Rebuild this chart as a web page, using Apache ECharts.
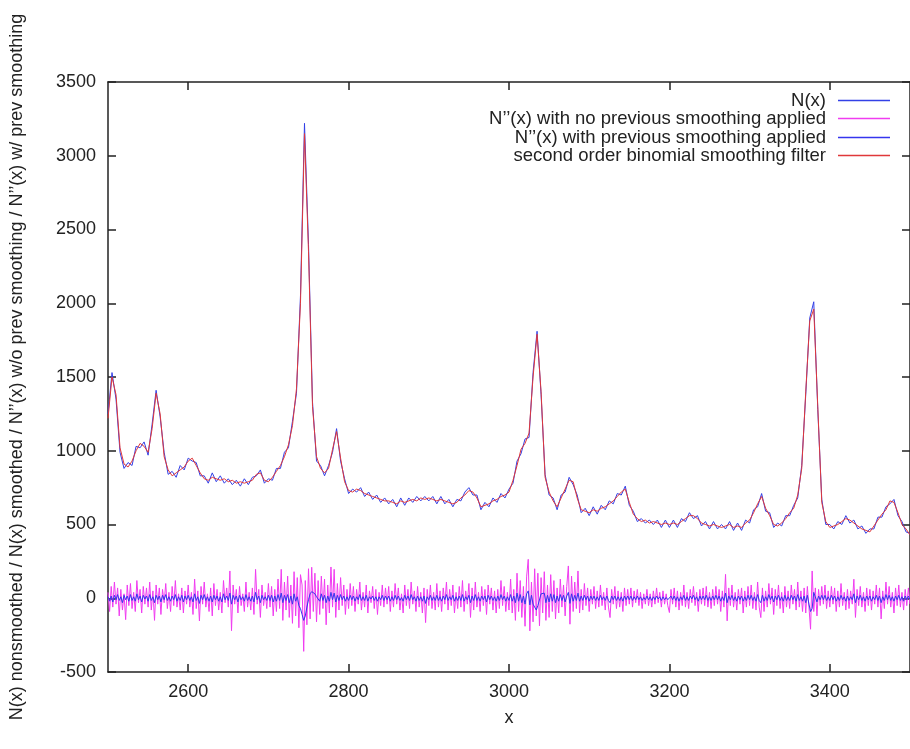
<!DOCTYPE html>
<html>
<head>
<meta charset="utf-8">
<script src="https://cdn.jsdelivr.net/npm/echarts@6/dist/echarts.min.js"></script>
<style>
html, body { margin: 0; padding: 0; background: #fff; }
#chart { width: 910px; height: 749px; }
</style>
</head>
<body>
<div id="chart"></div>
<script>
// x runs from 2500 to 3500; main curves every 5 units, second derivatives every 2
const xStart = 2500;
const mainStep = 5;
const diffStep = 2;
const xTicks = [2600, 2800, 3000, 3200, 3400];

const seriesNames = [
  "N(x)",
  "N’’(x) with no previous smoothing applied",
  "N’’(x) with previous smoothing applied",
  "second order binomial smoothing filter"
];

const nRaw = [
  1250, 1530, 1350, 990, 880, 920, 900, 1030, 1020, 1060,
  970, 1180, 1410, 1230, 990, 840, 860, 820, 900, 870,
  950, 930, 920, 830, 830, 780, 850, 790, 830, 780,
  810, 770, 800, 760, 810, 770, 820, 830, 870, 780,
  810, 800, 880, 880, 990, 1020, 1200, 1390, 2050, 3220,
  2400, 1330, 930, 900, 830, 900, 990, 1150, 930, 810,
  710, 740, 720, 750, 690, 720, 670, 700, 650, 680,
  640, 670, 620, 680, 630, 680, 650, 690, 660, 690,
  660, 690, 640, 690, 640, 670, 620, 670, 660, 720,
  750, 700, 700, 600, 650, 620, 680, 650, 710, 680,
  740, 780, 930, 980, 1080, 1090, 1530, 1810, 1380, 840,
  700, 680, 600, 700, 720, 820, 770, 700, 580, 610,
  560, 620, 570, 630, 600, 660, 640, 710, 700, 760,
  630, 590, 520, 540, 510, 530, 500, 530, 480, 530,
  480, 530, 480, 540, 520, 580, 540, 560, 490, 520,
  470, 520, 470, 500, 470, 520, 460, 510, 460, 530,
  510, 600, 620, 710, 590, 580, 480, 510, 490, 560,
  560, 630, 680, 900, 1380, 1900, 2010, 1280, 670, 500,
  500, 470, 520, 500, 560, 510, 530, 470, 490, 440,
  470, 470, 550, 550, 620, 640, 670, 560, 520, 450,
  440
];

const nSmooth = [
  1220, 1500, 1380, 1020, 910, 890, 930, 1000, 1050, 1030,
  990, 1150, 1390, 1250, 960, 870, 830, 850, 870, 890,
  930, 950, 900, 850, 810, 800, 820, 810, 800, 810,
  790, 800, 780, 790, 780, 790, 800, 840, 850, 800,
  790, 820, 860, 900, 960, 1040, 1170, 1420, 2000, 3150,
  2350, 1300, 960, 880, 850, 880, 1010, 1130, 950, 790,
  730, 720, 740, 730, 710, 700, 690, 680, 670, 660,
  660, 650, 640, 660, 650, 660, 670, 660, 680, 670,
  680, 670, 660, 670, 660, 650, 640, 650, 680, 700,
  730, 720, 680, 620, 630, 640, 660, 670, 690, 700,
  720, 800, 900, 1010, 1050, 1120, 1500, 1790, 1400, 820,
  720, 660, 620, 680, 740, 800, 790, 680, 600, 590,
  580, 600, 590, 610, 620, 640, 660, 690, 720, 740,
  650, 570, 540, 520, 530, 510, 520, 510, 500, 510,
  500, 510, 500, 520, 540, 560, 560, 540, 510, 500,
  490, 500, 490, 480, 490, 500, 480, 490, 480, 510,
  530, 580, 640, 690, 610, 560, 500, 490, 510, 540,
  580, 610, 700, 880, 1400, 1880, 1960, 1300, 650, 520,
  480, 490, 500, 520, 540, 530, 510, 490, 470, 460,
  450, 490, 530, 570, 600, 660, 650, 580, 500, 470,
  430
];

const d2Raw = [
  40, -90, 80, -60, 110, -40, 70, -120, 60, -80, 30, -145, 90, -50, 100, -70, 40, -90, 120, -30, 60, -100, 80, -40, 70,
  -60, 110, -80, 50, -150, 90, -40, 70, -110, 60, -30, 100, -70, 40, -90, 80, -50, 120, -60, 30, -80, 70, -100, 50, -40,
  90, -60, 40, -110, 130, -70, 50, -154, 80, -40, 110, -60, 30, -90, 70, -120, 100, -50, 60, -80, 40, -100, 120, -30, 70,
  -60, 185, -220, 90, -40, 60, -100, 80, -50, 30, -90, 110, -60, 40, -80, 70, -110, 196, -40, 60, -130, 90, -50, 40, -70,
  100, -60, 80, -120, 60, -90, 130, -70, 196, -150, 110, -80, 150, -130, 90, -170, 180, -120, 140, -200, 160, 90, -360, 120, -180,
  200, -140, 210, -90, 170, -160, 120, -110, 150, -70, 130, -180, 90, -100, 212, -60, 196, -130, 100, -80, 140, -50, 90, -110, 60,
  -70, 100, -50, 80, -90, 60, -40, 110, -80, 40, -60, 90, -100, 50, -30, 80, -70, 60, -110, 40, -50, 90, -60, 70, -40,
  80, -90, 50, -60, 100, -40, 70, -80, 30, -100, 90, -50, 60, -70, 110, -40, 50, -90, 80, -60, 40, -100, 70, -165, 60,
  -50, 90, -70, 40, -80, 100, -60, 50, -90, 70, -40, 110, -80, 60, -50, 90, -100, 40, -70, 80, -60, 120, -90, 50, -40,
  100, -130, 70, -80, 110, -60, 40, -90, 80, -50, 60, -110, 90, -40, 70, -80, 50, -100, 60, -70, 120, -50, 80, -90, 40,
  -80, 130, -100, 60, -150, 170, -90, 120, -130, 80, -190, 150, 264, -221, 110, -160, 200, -120, 170, -187, 140, -100, 180, -150, 90,
  -130, 160, -90, 120, -140, 70, -100, 130, -60, 90, -120, 80, 219, -176, 150, -90, 110, -70, 185, -100, 60, -80, 100, -50, 70,
  -90, 60, -40, 80, -70, 50, -60, 90, -50, 40, -80, 70, -60, -131, 60, -40, 80, -70, 50, -60, 40, -90, 70, -50, 60,
  -40, 70, -60, 50, -30, 60, -50, 40, -70, 30, -40, 60, -50, 30, -60, 50, -40, 70, -30, 40, -60, 50, -40, 30, -50,
  -97, 60, -40, 70, -60, 50, -80, 40, -50, 90, -60, 40, -70, 60, -30, 80, -50, 40, -90, 60, -40, 70, -50, 80, -60,
  40, -70, 60, -50, 80, -40, 60, -90, 50, -60, 162, -153, 70, -50, 90, -60, 40, -80, 60, -40, 70, -100, 50, -60, 80,
  -50, 90, -70, 40, -80, 110, -60, -131, 70, -90, 50, -60, 100, -40, 70, -110, 60, -50, 90, -70, 40, -100, 80, -60, 50,
  -70, 90, -40, 60, -80, 110, -60, 50, -90, 70, -100, 80, -60, -210, 185, -90, 70, -120, 60, -50, 80, -40, 90, -70, 50,
  -60, 80, -40, 70, -90, 50, -60, 100, -50, 40, -80, 60, -70, 50, -40, 129, -130, 60, -50, 80, -60, 40, -90, 70, -50,
  60, -80, 50, -40, 90, -60, 70, -140, 50, -70, 110, -40, 80, -60, 40, -100, 70, -50, 90, -60, 40, -80, 60, -50, 70,
  -40
];

const d2Smooth = [
  10, -20, 15, -25, 20, -10, 25, -15, 10, -30, 20, -10, 15, -20, 25, -15, 10, -20, 30, -10, 15, -25, 20, -5, 15,
  -20, 25, -15, 10, -30, 20, -10, 15, -25, 20, -10, 25, -15, 10, -20, 15, -10, 25, -20, 10, -15, 20, -25, 15, -10,
  20, -15, 10, -25, 30, -15, 10, -35, 20, -10, 25, -15, 10, -20, 15, -25, 20, -10, 15, -20, 10, -25, 30, -10, 15,
  -15, 35, -40, 20, -10, 15, -25, 20, -10, 10, -20, 25, -15, 10, -20, 15, -25, 40, -10, 15, -30, 20, -10, 10, -15,
  20, -15, 20, -25, 15, -20, 25, -15, 35, -30, 20, -15, 25, -30, 15, -40, 30, -20, 10, -50, -70, -110, -150, -120, -60,
  -10, 30, 45, 40, 30, 10, 20, -20, 30, -15, 20, -30, 15, -20, 40, -10, 35, -25, 20, -15, 25, -10, 15, -20, 10,
  -15, 20, -10, 15, -20, 10, -10, 25, -15, 10, -15, 20, -20, 10, -5, 15, -15, 10, -20, 10, -10, 20, -15, 15, -10,
  15, -20, 10, -15, 20, -10, 15, -15, 5, -20, 20, -10, 15, -15, 25, -10, 10, -20, 15, -15, 10, -20, 15, -35, 10,
  -10, 20, -15, 10, -15, 20, -15, 10, -20, 15, -10, 25, -15, 10, -10, 20, -20, 10, -15, 15, -15, 25, -20, 10, -10,
  20, -30, 15, -15, 25, -15, 10, -20, 15, -10, 15, -25, 20, -10, 15, -15, 10, -20, 15, -15, 25, -10, 15, -20, 10,
  -15, 25, -20, 15, -30, 35, -20, 25, -30, 15, -40, 30, 50, -45, 20, -40, -60, -80, -50, -40, 30, 40, 35, -30, 20,
  -25, 30, -20, 25, -30, 15, -20, 25, -15, 20, -25, 15, 40, -35, 30, -20, 20, -15, 35, -20, 15, -15, 20, -10, 15,
  -20, 15, -10, 15, -15, 10, -15, 20, -10, 10, -15, 15, -15, -30, 15, -10, 15, -15, 10, -15, 10, -20, 15, -10, 15,
  -10, 15, -15, 10, -10, 15, -10, 10, -15, 5, -10, 15, -10, 10, -15, 10, -10, 15, -5, 10, -15, 10, -10, 5, -10,
  -20, 15, -10, 15, -15, 10, -20, 10, -10, 20, -15, 10, -15, 15, -5, 20, -10, 10, -20, 15, -10, 15, -10, 20, -15,
  10, -15, 15, -10, 20, -10, 15, -20, 10, -15, 35, -30, 15, -10, 20, -15, 10, -20, 15, -10, 15, -20, 10, -15, 20,
  -10, 20, -15, 10, -20, 25, -15, -30, 20, -20, 10, -15, 25, -10, 15, -25, 15, -10, 20, -15, 10, -20, 20, -15, 10,
  -15, 20, -10, 15, -20, 25, -15, 10, -20, 15, -30, 20, -40, -90, -70, 40, 30, -25, 15, -10, 20, -10, 20, -15, 10,
  -15, 20, -10, 15, -20, 10, -15, 20, -10, 10, -20, 15, -15, 10, -10, 30, -30, 15, -10, 20, -15, 10, -20, 15, -10,
  15, -20, 10, -10, 20, -15, 15, -30, 10, -15, 25, -10, 20, -15, 10, -20, 15, -10, 20, -15, 10, -20, 15, -10, 15,
  -10
];

const colors = ["#3340e6", "#f03cf0", "#3535ee", "#e0383a"];
const legendTops = [91, 109, 128, 146];
const font = "Liberation Sans, Arial, Helvetica, sans-serif";

function toPairs(values, step) {
  return values.map((v, i) => [xStart + i * step, v]);
}

const chart = echarts.init(document.getElementById("chart"));

const axisLine = { show: true, onZero: false, lineStyle: { color: "#222", width: 1.5 } };
const axisTick = { inside: true, length: 8, lineStyle: { color: "#222", width: 1.5 } };
const plainNumber = (v) => String(v);

const option = {
  animation: false,
  backgroundColor: "#fff",
  grid: { left: 107, right: -4, top: 82, bottom: 77 },
  legend: seriesNames.map((name, i) => ({
    data: [name],
    orient: "vertical",
    right: 20,
    top: legendTops[i],
    padding: 0,
    align: "right",
    icon: "rect",
    itemWidth: 52,
    itemHeight: 1.5,
    selectedMode: false,
    textStyle: { fontSize: 18.5, color: "#222", fontFamily: font, padding: [0, 7, 0, 0] }
  })),
  xAxis: [
    {
      type: "value", min: 2500, max: 3500,
      name: "x", nameLocation: "middle", nameGap: 37,
      nameTextStyle: { fontSize: 18, color: "#222", fontFamily: font },
      axisLine: axisLine,
      axisTick: Object.assign({ customValues: xTicks }, axisTick),
      axisLabel: { customValues: xTicks, formatter: plainNumber, fontSize: 18, color: "#222", fontFamily: font, margin: 11 },
      splitLine: { show: false }
    },
    {
      type: "value", min: 2500, max: 3500, position: "top",
      axisLine: axisLine,
      axisTick: Object.assign({ customValues: xTicks }, axisTick),
      axisLabel: { show: false },
      splitLine: { show: false }
    }
  ],
  yAxis: [
    {
      type: "value", min: -500, max: 3500, interval: 500,
      name: "N(x) nonsmoothed / N(x) smoothed / N’’(x) w/o prev smoothing / N’’(x) w/ prev smoothing",
      nameLocation: "middle", nameGap: 82,
      nameTextStyle: { fontSize: 18, color: "#222", fontFamily: font, padding: [0, 0, 0, 20] },
      axisLine: axisLine,
      axisTick: axisTick,
      axisLabel: { formatter: plainNumber, fontSize: 18, color: "#222", fontFamily: font, margin: 12 },
      splitLine: { show: false }
    },
    {
      type: "value", min: -500, max: 3500, interval: 500, position: "right",
      axisLine: axisLine,
      axisTick: axisTick,
      axisLabel: { show: false },
      splitLine: { show: false }
    }
  ],
  series: [
    { name: seriesNames[0], data: toPairs(nRaw, mainStep) },
    { name: seriesNames[1], data: toPairs(d2Raw, diffStep) },
    { name: seriesNames[2], data: toPairs(d2Smooth, diffStep) },
    { name: seriesNames[3], data: toPairs(nSmooth, mainStep) }
  ].map((s, i) => Object.assign({
    type: "line",
    showSymbol: false,
    color: colors[i],
    lineStyle: { width: 1, color: colors[i] },
    z: 2 + i
  }, s))
};

chart.setOption(option);
</script>
</body>
</html>
